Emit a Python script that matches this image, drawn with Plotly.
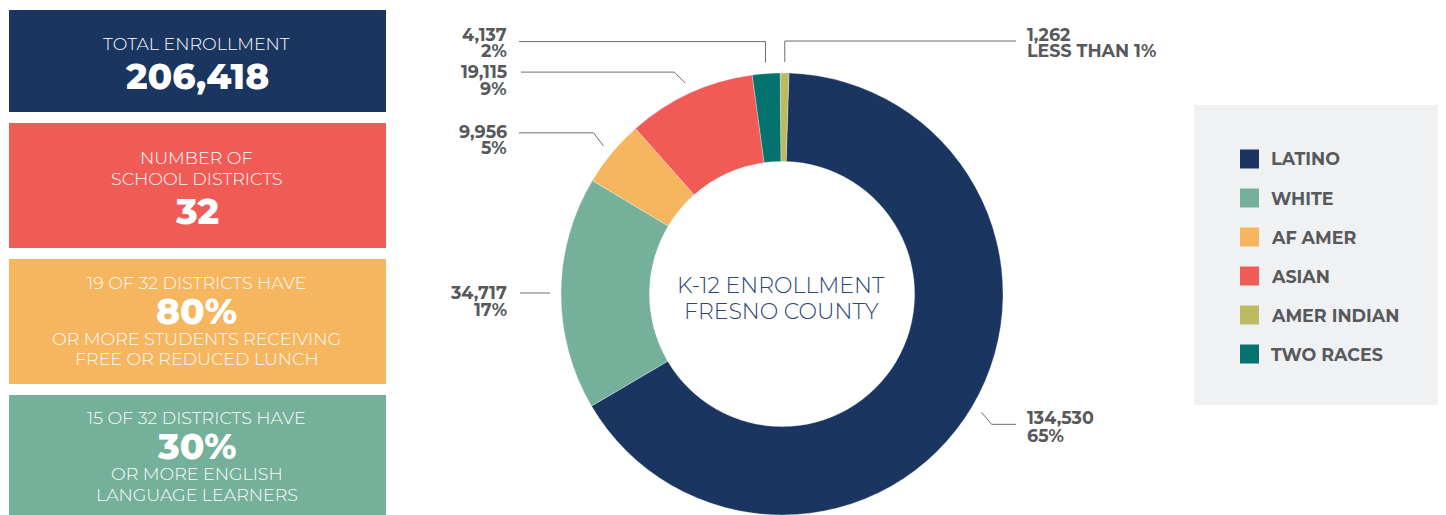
import math
import plotly.graph_objects as go

# page window size and the default 8px page margin around the plot div
PAGE_W, PAGE_H = 1446, 515
OFF = 8
W, H = PAGE_W - OFF, PAGE_H - OFF

# ---------------- data ----------------
categories = ["LATINO", "WHITE", "AF AMER", "ASIAN", "TWO RACES", "AMER INDIAN"]
enrollment = [134530, 34717, 9956, 19115, 4137, 1262]
pct_labels = ["65%", "17%", "5%", "9%", "2%", "LESS THAN 1%"]
colors = ["#1a355f", "#75b09a", "#f6b55f", "#f05b56", "#047370", "#bdbb5f"]
legend_order = ["LATINO", "WHITE", "AF AMER", "ASIAN", "AMER INDIAN", "TWO RACES"]

center_title = ["K-12 ENROLLMENT", "FRESNO COUNTY"]

stat_boxes = [
    {"color": "#1a355f", "top": 10, "bottom": 112,
     "lines": [("TOTAL ENROLLMENT", 43, "light"), ("206,418", 76, "big")]},
    {"color": "#f05b56", "top": 123, "bottom": 248,
     "lines": [("NUMBER OF", 158, "light"), ("SCHOOL DISTRICTS", 179, "light"), ("32", 211, "big")]},
    {"color": "#f6b55f", "top": 259, "bottom": 384,
     "lines": [("19 OF 32 DISTRICTS HAVE", 282, "light"), ("80%", 311, "big"),
               ("OR MORE STUDENTS RECEIVING", 338, "light"), ("FREE OR REDUCED LUNCH", 358, "light")]},
    {"color": "#75b09a", "top": 395, "bottom": 530,
     "lines": [("15 OF 32 DISTRICTS HAVE", 417, "light"), ("30%", 446, "big"),
               ("OR MORE ENGLISH", 473, "light"), ("LANGUAGE LEARNERS", 494, "light")]},
]

# ---------------- layout helpers (page pixels -> paper) ----------------
def X(px):
    return (px - OFF) / W

def Y(py):
    return 1 - (py - OFF) / H

FONT = "Montserrat, 'Open Sans', Lato, sans-serif"
GRAY = "#58595b"

# pie geometry (page pixels)
CX, CY, R = 782, 294, 221
ROT = 1.8

fig = go.Figure()
fig.add_trace(go.Pie(
    labels=categories, values=enrollment, sort=False, direction="clockwise",
    rotation=ROT, hole=0.6,
    marker=dict(colors=colors, line=dict(color="white", width=0.3)),
    textinfo="none", hoverinfo="label+value+percent", showlegend=False,
    domain=dict(x=[X(CX - R), X(CX + R)], y=[max(0, Y(CY + R)), Y(CY - R)]),
))

shapes = []
annotations = []

# ---- left stat boxes ----
for b in stat_boxes:
    shapes.append(dict(type="rect", xref="paper", yref="paper",
                       x0=X(9), x1=X(386), y0=Y(b["bottom"]), y1=Y(b["top"]),
                       fillcolor=b["color"], line=dict(width=0), layer="below"))
    for text, ypx, kind in b["lines"]:
        if kind == "big":
            font = dict(family=FONT, size=36, color="white", weight=800)
        else:
            font = dict(family=FONT, size=17.5, color="white", weight=300)
        annotations.append(dict(text=text, x=X(197), y=Y(ypx), xref="paper", yref="paper",
                                xanchor="center", yanchor="middle", showarrow=False, font=font))

# ---- center text ----
for text, ypx in zip(center_title, [285, 311]):
    annotations.append(dict(text=text, x=X(781), y=Y(ypx), xref="paper", yref="paper",
                            xanchor="center", yanchor="middle", showarrow=False,
                            font=dict(family=FONT, size=22, color="#2a4674", weight=300)))

# ---- leader lines & value labels ----
label_layout = {
    "LATINO":      dict(elbow=(10, 12),   end=1016, tx=1025, side="left",  ty=(417, 435)),
    "WHITE":       dict(elbow=(0, 0),     end=520,  tx=509,  side="right", ty=(292, 309)),
    "AF AMER":     dict(elbow=(-10, -13), end=519,  tx=509,  side="right", ty=(131, 147)),
    "ASIAN":       dict(elbow=(-11, -11), end=521,  tx=509,  side="right", ty=(72, 88)),
    "TWO RACES":   dict(elbow=(0, -21),   end=519,  tx=509,  side="right", ty=(34, 51)),
    "AMER INDIAN": dict(elbow=(0, -21),   end=1016, tx=1025, side="left",  ty=(34, 51)),
}

total = sum(enrollment)
cum = 0
R_ANCHOR = 232
for cat, val, pct in zip(categories, enrollment, pct_labels):
    mid = ROT + (cum + val / 2) / total * 360
    cum += val
    th = math.radians(mid)
    ax = CX + R_ANCHOR * math.sin(th)
    ay = CY - R_ANCHOR * math.cos(th)
    L = label_layout[cat]
    if cat == "WHITE":
        ay = L["ty"][0] + 1
    ex, ey = ax + L["elbow"][0], ay + L["elbow"][1]
    path = f"M {X(ax)},{Y(ay)} L {X(ex)},{Y(ey)} L {X(L['end'])},{Y(ey)}"
    shapes.append(dict(type="path", xref="paper", yref="paper", path=path,
                       line=dict(color="#6d6e70", width=1)))
    xanchor = "right" if L["side"] == "right" else "left"
    for t, typx in zip([f"{val:,}", pct], L["ty"]):
        annotations.append(dict(text=t, x=X(L["tx"]), y=Y(typx), xref="paper", yref="paper",
                                xanchor=xanchor, yanchor="middle", align=L["side"], showarrow=False,
                                font=dict(family=FONT, size=17.5, color=GRAY, weight=700)))

# ---- legend panel ----
shapes.append(dict(type="rect", xref="paper", yref="paper",
                   x0=X(1194), x1=X(1446), y0=Y(405), y1=Y(105),
                   fillcolor="#f0f1f3", line=dict(width=0), layer="below"))
for i, cat in enumerate(legend_order):
    yc = 159 + i * 39
    col = colors[categories.index(cat)]
    shapes.append(dict(type="rect", xref="paper", yref="paper",
                       x0=X(1240), x1=X(1259), y0=Y(yc + 9.5), y1=Y(yc - 9.5),
                       fillcolor=col, line=dict(width=0)))
    annotations.append(dict(text=cat, x=X(1269), y=Y(yc), xref="paper", yref="paper",
                            xanchor="left", yanchor="middle", showarrow=False,
                            font=dict(family=FONT, size=17.5, color=GRAY, weight=700)))

fig.update_layout(
    width=W, height=H, margin=dict(l=0, r=0, t=0, b=0),
    paper_bgcolor="white", plot_bgcolor="white",
    shapes=shapes, annotations=annotations,
)
fig.write_html("out.html")
